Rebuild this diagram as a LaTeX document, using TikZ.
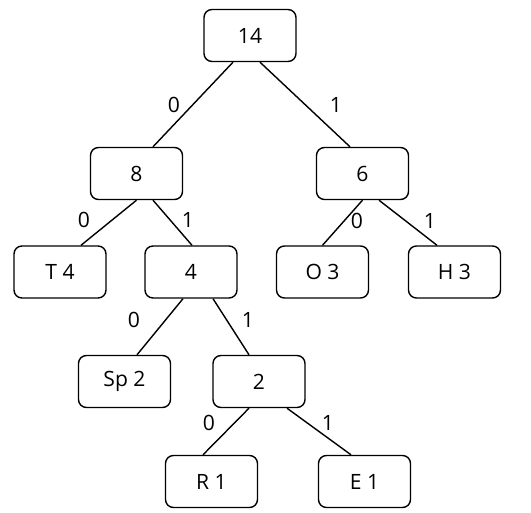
\documentclass[tikz,border=0pt]{standalone}
\usepackage{fontspec}
\setmainfont{Open Sans}

\begin{document}
\begin{tikzpicture}[x=0.03cm, y=-0.03cm, line width=1.2pt,
          box/.style={draw, rounded corners=0.24cm, minimum width=2.76cm,
            minimum height=1.56cm, font=\fontsize{18}{20}\selectfont},
          bit/.style={font=\fontsize{18}{20}\selectfont},
        ]
          \useasboundingbox (0,0) rectangle (531,513);
          \node[box] (n14) at (250,  35.5) {14};
          \node[box] (n8)  at (136.5,173.5) {8};
          \node[box] (n6)  at (362.5,173.5) {6};
          \node[box] (t4)  at (60,   272)   {T 4};
          \node[box] (n4)  at (191,  272)   {4};
          \node[box] (o3)  at (322.5,272)   {O 3};
          \node[box] (h3)  at (454.5,272)   {H 3};
          \node[box] (sp2) at (124.5,381.5) {Sp 2};
          \node[box] (n2)  at (259,  381.5) {2};
          \node[box] (r1)  at (211.5,481.5) {R 1};
          \node[box] (e1)  at (364.5,481.5) {E 1};
          \draw ([xshift=-0.51cm]n14.south) -- ([xshift=0.495cm]n8.north);
          \draw ([xshift=0.30cm]n14.south)  -- ([xshift=-0.375cm]n6.north);
          \draw (n8.south) -- ([xshift=0.63cm]t4.north);
          \draw ([xshift=0.495cm]n8.south) -- ([xshift=0.03cm]n4.north);
          \draw (n6.south) -- (o3.north);
          \draw ([xshift=0.495cm]n6.south) -- ([xshift=-0.525cm]h3.north);
          \draw ([xshift=-0.24cm]n4.south) -- ([xshift=0.375cm]sp2.north);
          \draw ([xshift=0.66cm]n4.south)  -- ([xshift=-0.30cm]n2.north);
          \draw ([xshift=-0.30cm]n2.south) -- ([xshift=-0.255cm]r1.north);
          \draw ([xshift=0.84cm]n2.south)  -- ([xshift=-0.405cm]e1.north);
          \node[bit] (b14l) at (174,105) {0};
          \node[bit] (b14r) at (336,105) {1};
          \node[bit] (b8l)  at (84, 220) {0};
          \node[bit] (b8r)  at (188,220) {1};
          \node[bit] (b6l)  at (357,221) {0};
          \node[bit] (b6r)  at (430,221) {1};
          \node[bit] (b4l)  at (134,320) {0};
          \node[bit] (b4r)  at (248,320) {1};
          \node[bit] (b2l)  at (209,423) {0};
          \node[bit] (b2r)  at (328,423) {1};
        \end{tikzpicture}
\end{document}
